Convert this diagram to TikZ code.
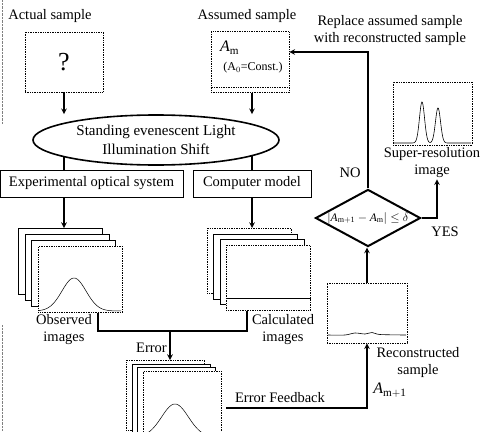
\documentclass[tikz,border=0pt]{standalone}
\usepackage{amsmath,amssymb}
\usepackage{fontspec}
\setmainfont{Liberation Serif}
\usetikzlibrary{shapes.geometric,backgrounds}
\begin{document}
\begin{tikzpicture}[x=1pt, y=-1pt, >=stealth,
        font=\fontsize{14.5}{17}\selectfont,
        flow/.style={->, line width=1.5pt},
        link/.style={line width=1.5pt},
        dotbox/.style={draw, densely dotted, line width=0.7pt, fill=white, inner sep=0pt},
        thinframe/.style={draw, line width=0.5pt, fill=white, inner sep=0pt},
        solidbox/.style={draw, line width=0.9pt, fill=white},
        word/.style={inner sep=1pt, align=center}]
    \useasboundingbox (0,0) rectangle (484,431);
    \clip (0,0) rectangle (484,431);
    \draw[gray, densely dotted] (2,0) -- (2,124) (2,325) -- (2,431);

    % samples
    \node[word] (actualT) at (50,16) {Actual sample};
    \node[word] (assumedT) at (247,16) {Assumed sample};
    \node[word] (replaceT) at (390,31) {Replace assumed sample\\with reconstructed sample};
    \node[dotbox, minimum width=78, minimum height=60] (actual) at (64,62) {\fontsize{26}{26}\selectfont ?};
    \node[dotbox, minimum width=78, minimum height=61] (assumed) at (250,62) {};
    \draw[densely dotted, line width=0.7pt] ([yshift=6pt]assumed.south west) -- ([yshift=6pt]assumed.south east);
    \node[word, anchor=west, font=\fontsize{16}{18}\selectfont] (am) at (219,48) {$\textit{A}_{\mathrm{m}}$};
    \node[word, font=\fontsize{12}{14}\selectfont] (a0) at (253,68) {(A$_0$=Const.)};

    % illumination and the two systems
    \node[draw, ellipse, line width=1.6pt, fill=white, minimum width=246, minimum height=50, inner sep=0pt,
          align=center, font=\fontsize{15}{19}\selectfont] (shift) at (156,140) {Standing evenescent Light\\Illumination Shift};
    \node[solidbox, minimum width=183, minimum height=27] (exp) at (91.5,183.5) {Experimental optical system};
    \node[solidbox, minimum width=118, minimum height=27] (comp) at (252,183.5) {Computer model};
    \draw[flow] (actual.south) -- (actual.south |- shift.north);
    \draw[flow] (assumed.south -| comp.north) -- (comp.north |- shift.north);
    \begin{scope}[on background layer]
        \draw[link] (actual.south |- exp.north) -- (actual.south |- shift.center);
        \draw[link] (comp.north) -- (comp.north |- shift.center);
    \end{scope}

    % image stacks
    \foreach \k/\sty in {1/thinframe,2/thinframe,3/thinframe,4/dotbox}
        \node[\sty, minimum width=84, minimum height=66, anchor=north west] (obs\k) at ({18+6.7*(\k-1)},{228+6*(\k-1)}) {};
    \draw[line width=0.5pt] plot[domain=39:121, samples=80, smooth] (\x,{311-33*exp(-1*(((\x-74)/17)^2))});
    \foreach \k/\sty in {1/dotbox,2/thinframe,3/thinframe,4/dotbox}
        \node[\sty, minimum width=84, minimum height=65, anchor=north west] (cal\k) at ({207+6.3*(\k-1)},{228+5.7*(\k-1)}) {};
    \draw[line width=0.6pt] ([yshift=13pt]cal4.south west) -- ([yshift=13pt]cal4.south east);
    \foreach \k/\sty in {1/dotbox,2/thinframe,3/thinframe,4/dotbox}
        \node[\sty, minimum width=78, minimum height=70, anchor=north west] (err\k) at ({126+5.7*(\k-1)},{360+3.7*(\k-1)}) {};
    \draw[line width=0.5pt] plot[domain=144:220, samples=80, smooth] (\x,{437-33*exp(-1*(((\x-175)/19)^2))});
    \draw[flow] (exp.south -| actual.south) -- (actual.south |- obs1.north);
    \draw[flow] (comp.south) -- (comp.south |- cal1.north);
    \node[word] (obsT) at (64,330) {Observed\\images};
    \node[word] (calT) at (283,330) {Calculated\\images};

    % error
    \coordinate (jl) at (98,331);
    \coordinate (jr) at (247,331);
    \coordinate (jm) at (170,331);
    \draw[link] (jl |- obs4.south) -- (jl) -- (jr) -- (jr |- cal4.south);
    \draw[flow] (jm) -- (jm |- err1.north);
    \node[word, anchor=east] (errT) at (168,348) {Error};

    % reconstruction and test
    \node[dotbox, minimum width=80, minimum height=60] (recon) at (367,313) {};
    \draw[line width=0.6pt] plot[smooth] coordinates {(328,335) (345,335) (355,333) (365,334) (372,332.5) (380,334.5) (406,335)};
    \node[word] (reconT) at (418,363) {Reconstructed\\sample};
    \node[word, font=\fontsize{16}{18}\selectfont] (am1) at (390,390) {$\textit{A}_{\mathrm{m+1}}$};
    \coordinate (fb) at (226,408);
    \draw[flow] (fb) -- (fb -| recon.south) -- (recon.south);
    \node[word] (fbT) at (280,398) {Error Feedback};
    \node[draw, diamond, line width=2pt, aspect=1.8, minimum width=105, inner sep=0pt, fill=white,
          font=\fontsize{11.5}{13}\selectfont] (dia) at (368,218) {$\left|\textit{A}_{\mathrm{m+1}}-\textit{A}_{\mathrm{m}}\right|\le\delta$};
    \draw[flow] (recon.north) -- (recon.north |- dia.south);

    % NO / YES
    \coordinate (nocorner) at (368,52);
    \draw[flow] (dia.north) -- (nocorner) -- (nocorner -| assumed.east);
    \node[word] (noT) at (350,173) {NO};
    \node[dotbox, minimum width=79, minimum height=63] (super) at (432.5,113.5) {};
    \draw[line width=0.6pt] plot[domain=394:471, samples=150, smooth]
        (\x,{143-41*exp(-1*(((\x-422)/3.6)^2))-35*exp(-1*(((\x-438)/3.6)^2))});
    \node[word] (superT) at (432,163) {Super-resolution\\image};
    \coordinate (yescorner) at (437,218);
    \draw[flow] (dia.east) -- (yescorner) -- (yescorner |- superT.south);
    \node[word] (yesT) at (445,232) {YES};
\end{tikzpicture}
\end{document}
